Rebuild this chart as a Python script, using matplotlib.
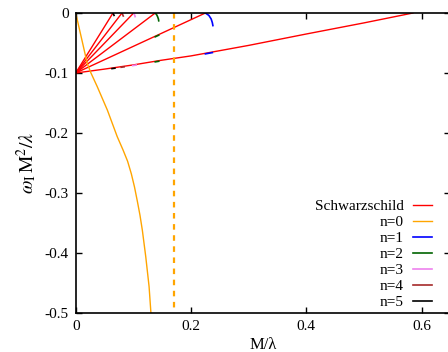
import matplotlib
matplotlib.use("Agg")
import matplotlib.pyplot as plt
import numpy as np

plt.rcParams['font.family'] = ['Liberation Serif', 'DejaVu Serif']
plt.rcParams['mathtext.fontset'] = 'stix'
plt.rcParams['axes.unicode_minus'] = False

# Schwarzschild branches: fan from (0,-0.1) to the x-axis
schw_long_x = [0.0, 0.05, 0.10, 0.147, 0.20, 0.30, 0.40, 0.50, 0.585]
schw_long_y = [-0.1, -0.0935, -0.0865, -0.079, -0.0715, -0.054, -0.035, -0.0165, 0.0]
schw_ends = [0.225, 0.138, 0.1005, 0.0803, 0.0647]

# n=0 branch
n0_x = [0.0, 0.011, 0.02, 0.026, 0.0375, 0.055, 0.072, 0.082, 0.09, 0.0965, 0.102, 0.107,
        0.1115, 0.1156, 0.1215, 0.1273, 0.1305]
n0_y = [0.0, -0.046, -0.084, -0.099, -0.123, -0.162, -0.206, -0.228, -0.247, -0.268, -0.290, -0.314,
        -0.337, -0.362, -0.406, -0.456, -0.5]
n0_vline = 0.171

# n=1..5 short branches near the axis
arc_x = {
    1: [0.225, 0.231, 0.235, 0.237, 0.238],
    2: [0.138, 0.1405, 0.142, 0.1435, 0.144],
    3: [0.1005, 0.1015, 0.1025, 0.103],
    4: [0.0803, 0.0812, 0.082, 0.0825],
    5: [0.0647, 0.0655, 0.066, 0.0665],
}
arc_y = {
    1: [0.0, -0.004, -0.010, -0.016, -0.021],
    2: [0.0, -0.003, -0.006, -0.010, -0.013],
    3: [0.0, -0.002, -0.004, -0.006],
    4: [0.0, -0.002, -0.004, -0.005],
    5: [0.0, -0.0015, -0.003, -0.004],
}
# small pieces of each branch visible on the Schwarzschild lines (x range, end of line)
mark_x = {1: [0.225, 0.237], 2: [0.138, 0.144], 3: [0.099, 0.105], 4: [0.079, 0.084], 5: [0.063, 0.068]}
mark_lines = {1: [0.585], 2: [0.585, 0.225], 3: [0.585], 4: [0.585], 5: [0.585]}

colors = {0: '#ffa500', 1: '#0000ff', 2: '#006400', 3: '#ee82ee', 4: '#a52a2a', 5: '#000000'}

fig = plt.figure(figsize=(4.48, 3.52), dpi=100)
ax = fig.add_axes([75.7/448, 1-313/352, (450.4-75.7)/448, 300/352])

lw = 1.0
ax.plot(schw_long_x, schw_long_y, color='#ff0000', lw=lw, label='Schwarzschild')
for e in schw_ends:
    ax.plot([0, e], [-0.1, 0.0], color='#ff0000', lw=lw)

ax.plot(n0_x, n0_y, color=colors[0], lw=lw, label='n=0')
ax.plot([n0_vline, n0_vline], [0, -0.5], color=colors[0], lw=1.6, ls=(0, (2.5, 2.5)))

for n in range(1, 6):
    ax.plot(arc_x[n], arc_y[n], color=colors[n], lw=1.2, label=f'n={n}')
    x0, x1 = mark_x[n]
    for e in mark_lines[n]:
        if e == 0.585:
            ys = np.interp([x0, x1], schw_long_x, schw_long_y)
        else:
            ys = [-0.1 + 0.1 * x0 / e, -0.1 + 0.1 * x1 / e]
        ax.plot([x0, x1], [ys[0] - 0.001, ys[1] - 0.001], color=colors[n], lw=1.2)

ax.set_xlim(0, 0.65)
ax.set_ylim(-0.5, 0)
ax.set_xticks([0, 0.2, 0.4, 0.6])
ax.set_xticklabels(['0', '0.2', '0.4', '0.6'])
ax.set_yticks([0, -0.1, -0.2, -0.3, -0.4, -0.5])
ax.set_yticklabels(['0', '-0.1', '-0.2', '-0.3', '-0.4', '-0.5'])
ax.tick_params(direction='in', length=4, width=1, labelsize=11, top=True, right=True, pad=5)
for s in ax.spines.values():
    s.set_linewidth(1.2)

ax.set_xlabel('M/λ', fontsize=12, labelpad=3)
ax.set_ylabel(r'$\omega_{\rm I}\,{\rm M}^2/\lambda$', fontsize=14, labelpad=4)

leg = ax.legend(loc='lower right', bbox_to_anchor=((432-75.7)/(450.4-75.7), 3.5/300),
                frameon=False, markerfirst=False, fontsize=11, handlelength=1.25,
                handletextpad=0.6, labelspacing=0.155, borderaxespad=0, borderpad=0)
for t in leg.get_texts():
    t.set_ha('right')

fig.savefig('out.png', dpi=100)
